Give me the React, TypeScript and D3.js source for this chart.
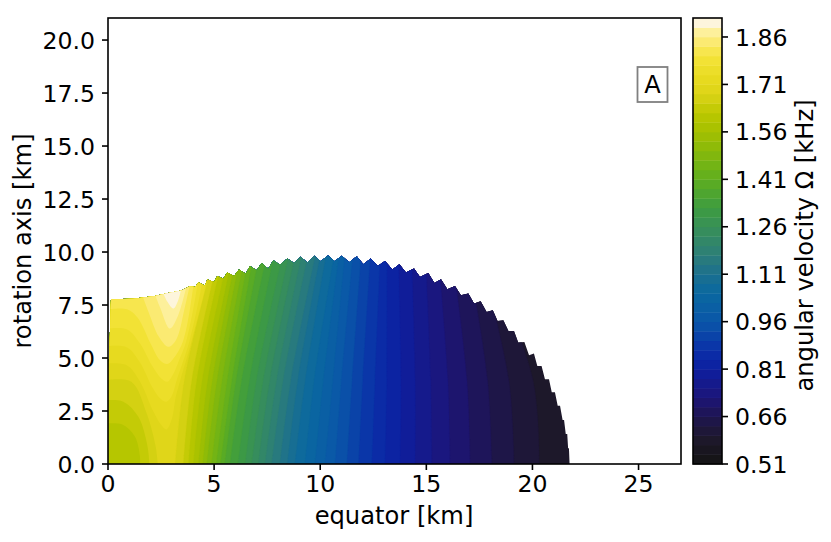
import React from "react";
import * as d3 from "d3";

const W = 831, H = 542;
const FONT = "'DejaVu Sans', sans-serif";

const xTicks = [0, 5, 10, 15, 20, 25];
const yTicks = [0, 2.5, 5, 7.5, 10, 12.5, 15, 17.5, 20];
const cbTicks = [0.51, 0.66, 0.81, 0.96, 1.11, 1.26, 1.41, 1.56, 1.71, 1.86];

// colour stops
const colourValues = [0.51, 0.54, 0.57, 0.6, 0.66, 0.72, 0.81, 0.87, 0.96, 1.05, 1.11, 1.17, 1.26, 1.32, 1.41, 1.5, 1.56, 1.62, 1.68, 1.71, 1.77, 1.8, 1.84, 1.875, 1.905];
const colourHex = ["#141414", "#17151c", "#1b1724", "#1e1830", "#1e1550", "#1c1578", "#0d1ea0", "#0a30a8", "#0a56a8", "#0a68a0", "#1c708f", "#2c7e78", "#389058", "#3d9c40", "#5fae20", "#88b90a", "#a4c000", "#bcc800", "#dcd418", "#e4d81a", "#efe02e", "#f5e43d", "#fbe96b", "#fdf09b", "#fdf5dc"];

// band edges of the contour plot
const bandEdges = [0.51, 0.54, 0.57, 0.6, 0.63, 0.66, 0.69, 0.72, 0.75, 0.78, 0.81, 0.84, 0.87, 0.9, 0.93, 0.96, 0.99, 1.02, 1.05, 1.08, 1.11, 1.14, 1.17, 1.2, 1.23, 1.26, 1.29, 1.32, 1.35, 1.38, 1.41, 1.44, 1.47, 1.5, 1.53, 1.56, 1.59, 1.62, 1.65, 1.68, 1.71, 1.74, 1.77, 1.8, 1.83, 1.86, 1.89, 1.92];

// stellar surface (saw-toothed by the polar grid), km
const surface: [number, number][] = [
  [0, 0], [0, 4], [0.07, 5.5], [0.14, 7.77], [1.19, 7.8], [1.66, 7.85], [2.21, 7.93], [2.84, 8.07], [3.47, 8.19],
  [3.86, 8.38], [4.1, 8.35], [4.27, 8.56], [4.57, 8.41], [4.68, 8.7], [5.0, 8.59], [5.15, 8.87], [5.43, 8.74],
  [5.62, 9.03], [5.94, 8.87], [6.17, 9.18], [6.49, 8.98], [6.69, 9.34], [7.0, 9.14], [7.24, 9.48], [7.55, 9.21],
  [7.79, 9.61], [8.1, 9.4], [8.45, 9.7], [8.76, 9.48], [9.08, 9.78], [9.39, 9.51], [9.72, 9.83], [10.02, 9.56],
  [10.37, 9.84], [10.68, 9.56], [11.01, 9.83], [11.37, 9.52], [11.72, 9.8], [12.03, 9.42], [12.38, 9.69], [12.71, 9.34],
  [13.05, 9.58], [13.4, 9.18], [13.73, 9.42], [14.04, 9.03], [14.42, 9.22], [14.7, 8.82], [15.09, 9.01], [15.38, 8.54],
  [15.69, 8.71], [15.99, 8.24], [16.35, 8.4], [16.63, 7.96], [16.98, 8.04], [17.25, 7.57], [17.56, 7.68], [17.84, 7.17],
  [18.13, 7.25], [18.36, 6.75], [18.63, 6.78], [18.87, 6.28], [19.13, 6.28], [19.33, 5.73], [19.62, 5.76], [19.84, 5.13],
  [20.07, 5.21], [20.23, 4.62], [20.43, 4.62], [20.59, 4.0], [20.78, 4.0], [20.91, 3.38], [21.06, 3.38], [21.19, 2.75],
  [21.3, 2.75], [21.42, 2.07], [21.49, 2.07], [21.57, 1.41], [21.64, 1.41], [21.68, 0.74], [21.72, 0.74], [21.75, 0],
];

// outer contours: x position (km) of each level at y = 0, 4 and 10 km
const outerLevels = [0.6, 0.63, 0.66, 0.69, 0.72, 0.75, 0.78, 0.81, 0.84, 0.87, 0.9, 0.93, 0.96, 0.99, 1.02, 1.05, 1.08, 1.11, 1.14, 1.17, 1.2, 1.23, 1.26, 1.29, 1.32, 1.35, 1.38, 1.41, 1.44, 1.47, 1.5, 1.53, 1.56, 1.59, 1.62, 1.65, 1.68];
const outerAt0 = [20.32, 19.13, 18.08, 17.06, 16.11, 15.25, 14.47, 13.76, 13.05, 12.43, 11.8, 11.25, 10.7, 10.22, 9.75, 9.28, 8.81, 8.45, 8.1, 7.71, 7.4, 7.08, 6.77, 6.46, 6.12, 5.75, 5.5, 5.3, 5.1, 4.88, 4.65, 4.46, 4.26, 4.02, 3.79, 3.55, 3.16];
const outerAt4 = [20.02, 18.88, 17.88, 16.91, 16.01, 15.2, 14.47, 13.8, 13.13, 12.58, 12.0, 11.5, 11.0, 10.6, 10.15, 9.72, 9.3, 8.95, 8.62, 8.26, 7.95, 7.63, 7.32, 7.0, 6.67, 6.3, 6.04, 5.84, 5.62, 5.38, 5.14, 4.92, 4.7, 4.44, 4.18, 3.95, 3.6];
const outerAt10 = [17.8, 17.5, 16.93, 16.2, 15.55, 14.95, 14.3, 13.68, 13.15, 12.83, 12.37, 11.93, 11.55, 11.17, 10.9, 10.68, 10.3, 10.03, 9.8, 9.45, 9.15, 8.85, 8.55, 8.25, 7.85, 7.5, 7.15, 6.87, 6.65, 6.47, 6.27, 6.08, 5.9, 5.7, 5.45, 5.25, 5.05];

// V-shaped contours around the off-centre maximum
const c171: [number, number][] = [[0, 4.74], [0.9, 4.65], [1.5, 3.9], [2.1, 2.55], [2.5, 1.85], [2.75, 1.63], [3.0, 2.1], [3.2, 3.2], [3.42, 4.0], [3.95, 5.84], [4.73, 9], [4.85, 10]];
const c174: [number, number][] = [[0, 5.56], [0.9, 5.5], [1.5, 4.8], [2.1, 3.6], [2.5, 3.05], [2.75, 2.94], [3.0, 3.2], [3.25, 4.0], [3.85, 5.84], [4.52, 9], [4.65, 10]];
const c177: [number, number][] = [[0, 6.39], [0.9, 6.35], [1.5, 5.7], [2.1, 4.6], [2.5, 4.05], [2.8, 3.88], [3.05, 4.2], [3.35, 4.9], [3.7, 5.84], [4.3, 9], [4.4, 10]];
const c180: [number, number][] = [[0, 7.3], [0.9, 7.3], [1.4, 6.9], [2.0, 5.7], [2.45, 4.9], [2.8, 4.72], [3.1, 5.0], [3.55, 5.84], [4.1, 9], [4.2, 10]];
const c183: [number, number][] = [[1.5, 8.3], [1.9, 7.2], [2.4, 6.0], [2.84, 5.53], [3.2, 5.84], [3.6, 7.3], [3.95, 9], [4.05, 10]];
const c186: [number, number][] = [[2.1, 8.3], [2.45, 7.4], [2.92, 6.39], [3.3, 7.0], [3.75, 8.6]];
const c189: [number, number][] = [[2.5, 8.3], [2.8, 7.65], [3.08, 7.33], [3.3, 7.7], [3.5, 8.5]];
const innerContours = [c171, c174, c177, c180, c183, c186, c189];
const innerLevels = [1.71, 1.74, 1.77, 1.8, 1.83, 1.86, 1.89];

// rings round the origin, where the field dips: outermost first
const r168: [number, number][] = [[0, 3.96], [1.1, 3.88], [1.82, 2.39], [2.25, 0.8], [2.34, 0]];
const r165: [number, number][] = [[0, 3.01], [0.72, 2.94], [1.43, 2.23], [1.85, 0.9], [1.95, 0]];
const r162: [number, number][] = [[0, 1.92], [0.65, 1.87], [1.27, 1.29], [1.5, 0.4], [1.51, 0]];
const rings = [r168, r165, r162];
const ringLevels = [1.65, 1.62, 1.59];
const baseLevel = 0.57;

const xScale = d3.scaleLinear().domain([0, 27]).range([108, 681]);
const yScale = d3.scaleLinear().domain([0, 21.04]).range([464, 18]);
const cbScale = d3.scaleLinear().domain([0.51, 1.92]).range([464, 18]);
const colour = d3.scaleLinear<string>().domain(colourValues).range(colourHex).interpolate(d3.interpolateRgb).clamp(true);

const bandColour = (low: number) => colour(low + 0.015);
const curve = d3.line<[number, number]>().x((d) => xScale(d[0])).y((d) => yScale(d[1])).curve(d3.curveCatmullRom.alpha(0.5));
const straight = d3.line<[number, number]>().x((d) => xScale(d[0])).y((d) => yScale(d[1]));

const TOP = 12;
const outerPath = (i: number) => {
  const pts: [number, number][] = [[outerAt0[i], 0], [outerAt4[i], 4], [outerAt10[i], 10]];
  const last = pts[2][0];
  const tail = straight([[last, TOP], [0, TOP], [0, 0], [outerAt0[i], 0]]) as string;
  return (curve(pts) as string) + "L" + tail.slice(1) + "Z";
};
const innerPath = (pts: [number, number][]) => {
  const tail = straight([[pts[pts.length - 1][0], TOP], [pts[0][0], TOP]]) as string;
  return (curve(pts) as string) + "L" + tail.slice(1) + "Z";
};
const ringPath = (pts: [number, number][]) => {
  const tail = straight([[0, 0]]) as string;
  return (curve(pts) as string) + "L" + tail.slice(1) + "Z";
};

const AX = "#000";
const FS = 23.6;
const LABEL_FS = 24.2;

export default function App() {
  return (
    <svg width={W} height={H} viewBox={`0 0 ${W} ${H}`} style={{ position: "absolute", left: 0, top: 0, background: "#fff" }} fontFamily={FONT}>
      <defs>
        <clipPath id="star">
          <path d={(straight(surface) as string) + "Z"} />
        </clipPath>
      </defs>

      <g clipPath="url(#star)">
        <rect x={xScale(0)} y={yScale(12)} width={xScale(23) - xScale(0)} height={yScale(0) - yScale(12)} fill={bandColour(baseLevel)} />
        {outerLevels.map((l, i) => (
          <path key={l} d={outerPath(i)} fill={bandColour(l)} stroke={bandColour(l)} strokeWidth={0.3} />
        ))}
        {innerContours.map((c, i) => (
          <path key={innerLevels[i]} d={innerPath(c)} fill={bandColour(innerLevels[i])} />
        ))}
        {rings.map((c, i) => (
          <path key={ringLevels[i]} d={ringPath(c)} fill={bandColour(ringLevels[i])} />
        ))}
      </g>

      <rect x={108} y={18} width={573} height={446} fill="none" stroke={AX} strokeWidth={1.6} />

      {xTicks.map((t) => (
        <g key={t}>
          <line x1={xScale(t)} x2={xScale(t)} y1={464} y2={470} stroke={AX} strokeWidth={1.6} />
          <text x={xScale(t)} y={492} textAnchor="middle" fontSize={FS} fill="#000">{t}</text>
        </g>
      ))}
      {yTicks.map((t) => (
        <g key={t}>
          <line x1={102} x2={108} y1={yScale(t)} y2={yScale(t)} stroke={AX} strokeWidth={1.6} />
          <text x={95} y={yScale(t) + 8.6} textAnchor="end" fontSize={FS} fill="#000">{t.toFixed(1)}</text>
        </g>
      ))}
      <text x={394} y={524} textAnchor="middle" fontSize={LABEL_FS} fill="#000">equator [km]</text>
      <text transform="translate(31,241) rotate(-90)" textAnchor="middle" fontSize={LABEL_FS} fill="#000">rotation axis [km]</text>

      <rect x={637.5} y={67} width={30} height={35} fill="#fff" stroke="#808080" strokeWidth={1.8} />
      <text x={652.5} y={93} textAnchor="middle" fontSize={LABEL_FS} fill="#000">A</text>

      {bandEdges.slice(0, -1).map((e, i) => (
        <rect key={e} x={693} width={29} y={cbScale(bandEdges[i + 1])} height={cbScale(e) - cbScale(bandEdges[i + 1]) + 0.4} fill={bandColour(e)} />
      ))}
      <rect x={693} y={18} width={29} height={446} fill="none" stroke={AX} strokeWidth={1.6} />
      {cbTicks.map((t) => (
        <g key={t}>
          <line x1={722} x2={728} y1={cbScale(t)} y2={cbScale(t)} stroke={AX} strokeWidth={1.6} />
          <text x={735} y={cbScale(t) + 8.6} fontSize={FS} fill="#000">{t.toFixed(2)}</text>
        </g>
      ))}
      <text transform="translate(813,245.5) rotate(-90)" textAnchor="middle" fontSize={LABEL_FS} fill="#000">angular velocity Ω [kHz]</text>
    </svg>
  );
}
